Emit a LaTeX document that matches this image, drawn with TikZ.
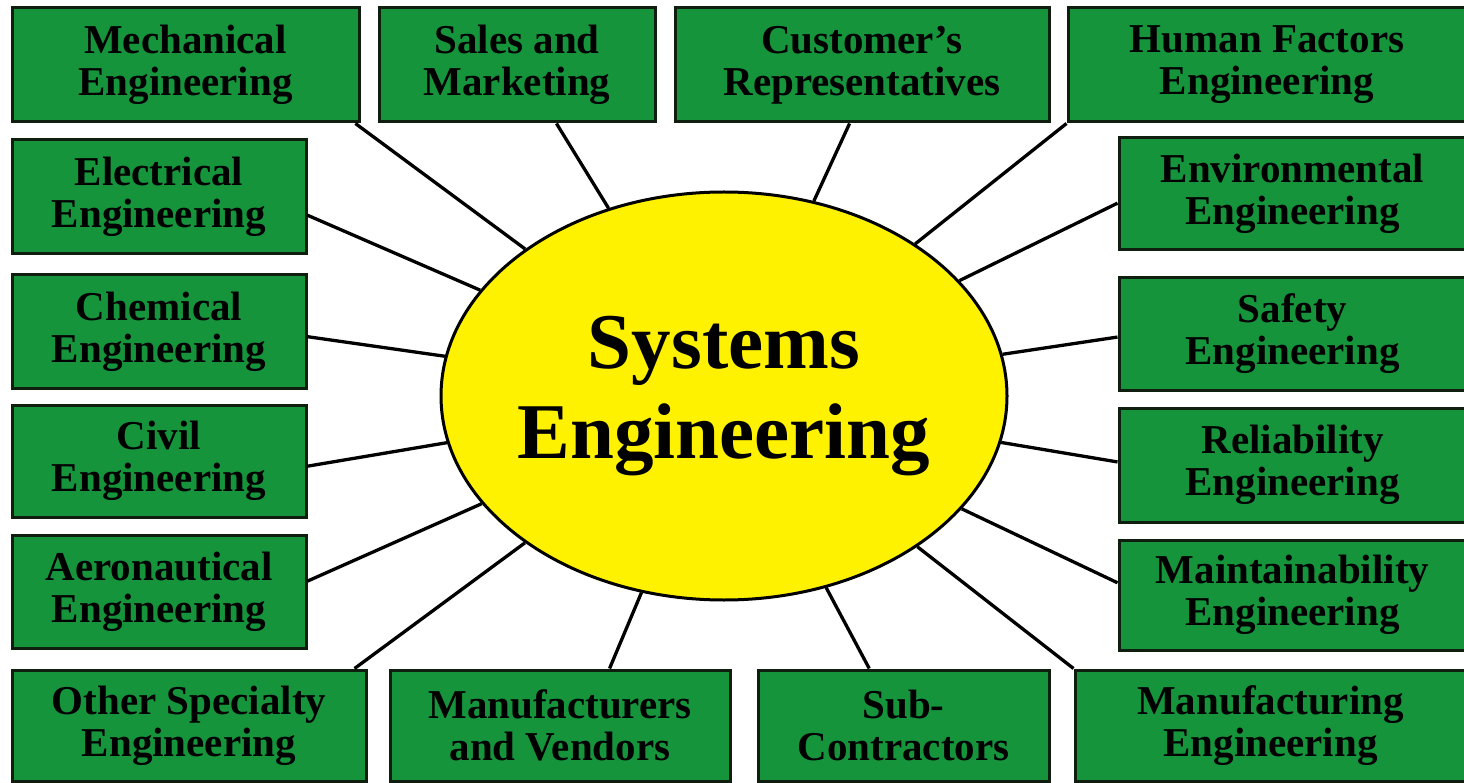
\documentclass[tikz,border=0pt]{standalone}
\usepackage{fontspec}
\setmainfont{Liberation Serif}
\usepackage{xcolor}
\usetikzlibrary{shapes.geometric}
\definecolor{fieldgreen}{RGB}{22,148,60}
\definecolor{fieldline}{RGB}{15,30,15}

\begin{document}
\begin{tikzpicture}[x=1pt,y=-1pt]
  \tikzset{field/.style = {shape=rectangle,draw=fieldline,fill=fieldgreen,line width=3pt,inner sep=0pt,align=center,font=\fontsize{41}{42}\selectfont\bfseries}}
  \tikzset{hub/.style = {shape=ellipse,draw,fill=yellow,line width=3pt,inner ysep=0pt,inner xsep=-30pt,minimum width=566pt,minimum height=408pt,align=center,font=\fontsize{79}{90}\selectfont\bfseries}}
  \tikzset{spoke/.style = {line width=3.3pt,draw=black}}

  \fill[white] (0,0) rectangle (1464,783);
  \useasboundingbox (0,0) rectangle (1464,783);

	\node[hub] (SE) at (724,396) {Systems\\Engineering};

	% top row
	\node[field,minimum width=347pt,minimum height=114pt] (mech) at (185.5,65) {Mechanical\\Engineering};
	\node[field,minimum width=276pt,minimum height=114pt] (sales) at (517,65) {Sales and\\Marketing};
	\node[field,minimum width=374pt,minimum height=114pt] (cust) at (862,65) {Customer's\\Representatives};
	\node[field,minimum width=398pt,minimum height=114pt] (human) at (1267,65) {Human Factors\\Engineering};

	% left column
	\node[field,minimum width=294pt,minimum height=114pt] (elec) at (159,197) {Electrical\\Engineering};
	\node[field,minimum width=294pt,minimum height=113pt] (chem) at (159,331.5) {Chemical\\Engineering};
	\node[field,minimum width=294pt,minimum height=112pt] (civil) at (159,461) {Civil\\Engineering};
	\node[field,minimum width=294pt,minimum height=113pt] (aero) at (159,591.5) {Aeronautical\\Engineering};

	% right column
	\node[field,minimum width=347pt,minimum height=112pt] (env) at (1292.5,194) {Environmental\\Engineering};
	\node[field,minimum width=347pt,minimum height=112pt] (safety) at (1292.5,334) {Safety\\Engineering};
	\node[field,minimum width=347pt,minimum height=114pt] (rel) at (1292.5,465) {Reliability\\Engineering};
	\node[field,minimum width=347pt,minimum height=110pt] (maint) at (1292.5,595) {Maintainability\\Engineering};

	% bottom row
	\node[field,minimum width=354pt,minimum height=111pt] (other) at (189,725.5) {Other Specialty\\Engineering};
	\node[field,minimum width=340pt,minimum height=111pt] (vendors) at (560,725.5) {Manufacturers\\and Vendors};
	\node[field,minimum width=291pt,minimum height=111pt] (sub) at (903.5,725.5) {Sub-\\Contractors};
	\node[field,minimum width=391pt,minimum height=111pt] (mfg) at (1270.5,725.5) {Manufacturing\\Engineering};

    \foreach \to in {mech.-19, sales.-56, cust.-102, human.south west, elec.-7, chem.-2, civil.-2, aero.4, other.19, vendors.49, sub.121, mfg.north west, env.183, safety.181, rel.179, maint.176}
    \path[spoke](SE) edge (\to);

\end{tikzpicture}
\end{document}
